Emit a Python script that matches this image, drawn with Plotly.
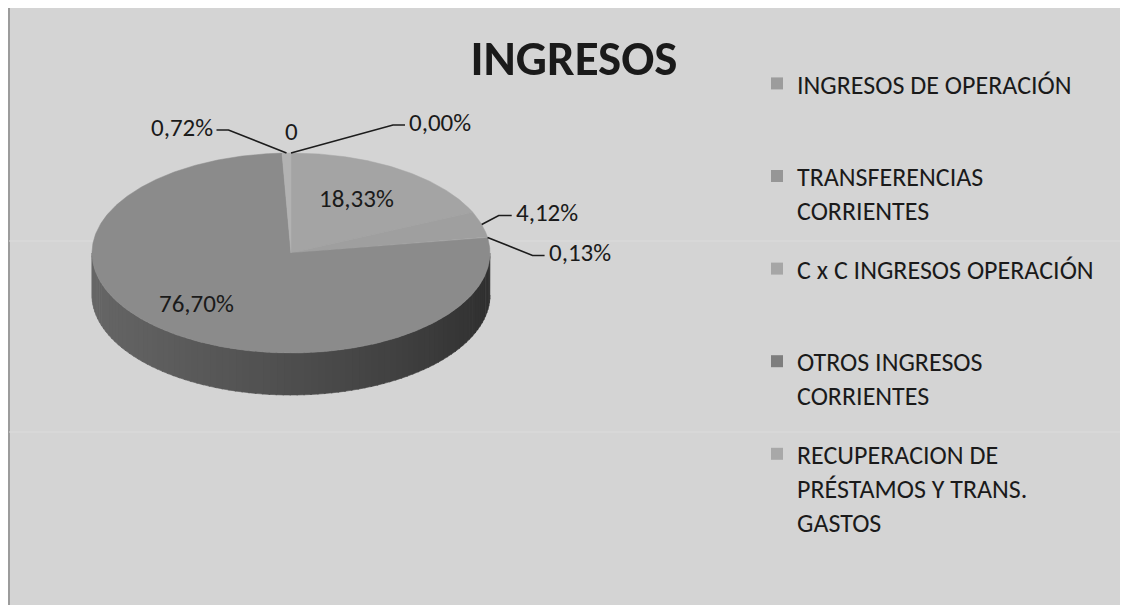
import numpy as np
import plotly.graph_objects as go

# ---------------- data ----------------
title_text = "INGRESOS"
legend_labels = [
    "INGRESOS DE OPERACIÓN",
    "TRANSFERENCIAS<br>CORRIENTES",
    "C x C INGRESOS OPERACIÓN",
    "OTROS INGRESOS<br>CORRIENTES",
    "RECUPERACION DE<br>PRÉSTAMOS Y TRANS.<br>GASTOS",
]
slice_values = [18.33, 4.12, 0.13, 76.70, 0.72, 0.0, 0.0]
slice_labels = ["18,33%", "4,12%", "0,13%", "76,70%", "0,72%", "0", "0,00%"]

# ---------------- style ----------------
# page body has an 8px margin: figure covers screen x 8..1128, y 8..605
OFF = 8
W, H = 1128 - OFF, 605 - OFF
CX, CY, RX, RY, DEPTH = 291, 253, 199, 100, 42
FONT = "Carlito, Calibri, Lato, sans-serif"
LEG_FS = 26
top_colors = ["#a4a4a4", "#9f9f9f", "#a6a6a6", "#8b8b8b", "#b2b2b2", "#a0a0a0", "#a0a0a0"]
legend_colors = ["#9c9c9c", "#969696", "#a6a6a6", "#7e7e7e", "#a8a8a8"]
# label placement style: (kind, radial fraction, dx, dy, tail, anchor)
label_style = [
    ("in", 0.60, 0, -4, 0, "center"),
    ("out", 1.0, 17, -9, 13, "left"),
    ("out", 1.0, 45, 18, 12, "left"),
    ("in", 0.75, 0, -8, 0, "center"),
    ("out", 1.0, -58, -23, -12, "right"),
    ("none", 1.0, 0, -22, 0, "center"),
    ("out", 1.0, 102, -28, 12, "left"),
]


def pt(theta_deg, r=1.0, dz=0.0):
    t = np.radians(theta_deg)
    return CX + RX * r * np.sin(t), CY - RY * r * np.cos(t) + dz


def grey(v):
    v = int(max(0, min(255, round(v))))
    return f"rgb({v},{v},{v})"


def hex_level(h):
    return int(h[1:3], 16)


total = sum(slice_values)
bounds = np.concatenate([[0], np.cumsum(slice_values)]) / total * 360.0

fig = go.Figure()

# side walls (front half, 90..270 deg), shaded strips
for i, v in enumerate(slice_values):
    a0, a1 = bounds[i], bounds[i + 1]
    s0, s1 = max(a0, 90.0), min(a1, 270.0)
    if v <= 0 or s1 <= s0:
        continue
    n = max(1, int((s1 - s0) / 2))
    edges = np.linspace(s0, s1, n + 1)
    base = hex_level(top_colors[i])
    for k in range(n):
        e0 = edges[k]
        e1 = edges[k + 1] + 0.4 if k < n - 1 else edges[k + 1]
        th = np.linspace(e0, e1, 4)
        xs_t, ys_t = pt(th)
        xs_b, ys_b = pt(th[::-1], dz=DEPTH)
        mid = np.radians((edges[k] + edges[k + 1]) / 2)
        s = np.sin(mid)
        f = 0.56 - 0.17 * s - 0.05 * max(s, 0) ** 3
        c = grey(base * f)
        fig.add_trace(go.Scatter(
            x=np.concatenate([xs_t, xs_b]), y=np.concatenate([ys_t, ys_b]),
            fill="toself", fillcolor=c, mode="lines", line=dict(width=0.6, color=c),
            hoverinfo="skip", showlegend=False))

# top faces
for i, v in enumerate(slice_values):
    if v <= 0:
        continue
    a0, a1 = bounds[i], bounds[i + 1]
    th = np.linspace(a0, a1, max(3, int((a1 - a0) * 2)))
    xs, ys = pt(th)
    fig.add_trace(go.Scatter(
        x=np.concatenate([[CX], xs, [CX]]), y=np.concatenate([[CY], ys, [CY]]),
        fill="toself", fillcolor=top_colors[i], mode="lines",
        line=dict(width=0.5, color=top_colors[i]),
        name=slice_labels[i], hoverinfo="name", showlegend=False))

# labels and leader lines
annotations = []
for i, lab in enumerate(slice_labels):
    kind, r, dx, dy, tail, anchor = label_style[i]
    mid = (bounds[i] + bounds[i + 1]) / 2
    px, py = pt(mid, r)
    if kind == "out":
        ex, ey = px + dx, py + dy
        fx = ex + tail
        fig.add_trace(go.Scatter(x=[px, ex, fx], y=[py, ey, ey], mode="lines",
                                 line=dict(color="#1c1c1c", width=1.6),
                                 hoverinfo="skip", showlegend=False))
        tx = fx + (2 if tail > 0 else -2)
        annotations.append(dict(x=tx, y=ey - 3, text=lab, showarrow=False,
                                xanchor=anchor, yanchor="middle",
                                font=dict(family=FONT, size=25, color="#1a1a1a")))
    else:
        annotations.append(dict(x=px + dx, y=py + dy, text=lab, showarrow=False,
                                xanchor=anchor, yanchor="middle",
                                font=dict(family=FONT, size=25, color="#1a1a1a")))

# legend entries (two-line slots, evenly spaced)
for i, name in enumerate(legend_labels):
    nlines = name.count("<br>") + 1
    padded = name + "<br> " * max(0, 2 - nlines)
    fig.add_trace(go.Scatter(x=[None], y=[None], mode="markers",
                             marker=dict(symbol="square", size=12, color=legend_colors[i]),
                             name=padded, legendgroup=f"g{i}", showlegend=True,
                             hoverinfo="skip"))

fig.update_layout(
    width=W, height=H, autosize=False,
    margin=dict(l=0, r=0, t=0, b=0),
    paper_bgcolor="white", plot_bgcolor="white",
    xaxis=dict(range=[OFF, OFF + W], visible=False, fixedrange=True),
    yaxis=dict(range=[OFF + H, OFF], visible=False, fixedrange=True),
    shapes=[
        dict(type="rect", xref="x", yref="y", x0=9, y0=7, x1=OFF + W + 5, y1=OFF + H + 5,
             fillcolor="#d4d4d4", line=dict(color="#9c9c9c", width=2), layer="below"),
        dict(type="line", xref="x", yref="y", x0=9, x1=OFF + W, y0=241, y1=241,
             line=dict(color="#dcdcdc", width=1), layer="below"),
        dict(type="line", xref="x", yref="y", x0=9, x1=OFF + W, y0=432, y1=432,
             line=dict(color="#dcdcdc", width=1), layer="below"),
    ],
    title=dict(text=title_text, x=(574 - OFF) / W, xanchor="center",
               y=1 - (58 - OFF) / H, yanchor="middle",
               font=dict(family=FONT, size=49, color="#1a1a1a", weight="bold")),
    legend=dict(x=(757 - OFF) / W, xanchor="left", y=1 - (60 - OFF) / H, yanchor="top",
                font=dict(family=FONT, size=LEG_FS, color="#1a1a1a"),
                bgcolor="rgba(0,0,0,0)", borderwidth=0, valign="top",
                traceorder="grouped", tracegroupgap=93 - 2 * round(LEG_FS * 1.3) - 3,
                itemwidth=30),
    annotations=annotations,
    showlegend=True,
)

fig.write_html("out.html")
